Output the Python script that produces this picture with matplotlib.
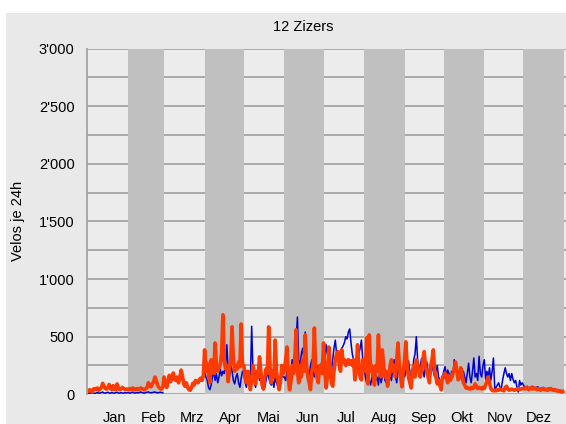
import numpy as np
import matplotlib
matplotlib.use("Agg")
import matplotlib.pyplot as plt
from matplotlib.patches import Rectangle
from matplotlib.ticker import FuncFormatter

plt.rcParams['font.family'] = ['Liberation Sans', 'DejaVu Sans']
plt.rcParams['font.size'] = 10.5

TITLE = "12 Zizers"
Y_LABEL = "Velos je 24h"
MONTHS = ["Jan", "Feb", "Mrz", "Apr", "Mai", "Jun", "Jul", "Aug", "Sep", "Okt", "Nov", "Dez"]
MONTH_DAYS = [31, 28, 31, 30, 31, 30, 31, 31, 30, 31, 30, 31]

# daily counts (thin blue line)
blue_jan = [10, 8, 12, 10, 15, 10, 8, 12, 15, 10, 12, 15, 20, 12, 10, 15, 18, 12, 10, 15, 12, 10, 15, 18, 12, 10, 15, 12, 10, 15, 12]
blue_feb = [15, 12, 10, 15, 18, 12, 10, 15, 12, 15, 20, 15, 12, 10, 15, 18, 20, 15, 12, 15, 18, 20, 15, 12, 15, 18, 15, 12]
blue_mrz = [np.nan] * 31
blue_apr = [195, 150, 120, 60, 40, 80, 150, 200, 120, 180, 100, 150, 220, 160, 200, 180, 250, 430, 200, 150, 260, 200, 120, 90, 150, 180, 100, 60, 140, 200]
blue_mai = [180, 100, 60, 150, 200, 120, 590, 200, 100, 60, 150, 250, 120, 200, 150, 80, 60, 120, 200, 150, 100, 80, 120, 60, 150, 100, 70, 40, 120, 180, 150]
blue_jun = [150, 120, 200, 250, 150, 200, 300, 250, 350, 450, 670, 300, 250, 350, 400, 300, 540, 250, 200, 150, 250, 300, 200, 150, 200, 250, 180, 200, 250, 300]
blue_jul = [200, 300, 430, 350, 250, 160, 200, 300, 400, 470, 350, 300, 320, 380, 400, 420, 450, 500, 480, 540, 567, 450, 350, 300, 270, 250, 300, 350, 400, 470, 300]
blue_aug = [250, 150, 100, 200, 120, 80, 150, 200, 100, 120, 150, 80, 200, 100, 150, 250, 120, 100, 80, 200, 150, 120, 250, 300, 150, 100, 200, 250, 150, 100, 200]
blue_sep = [150, 200, 250, 290, 200, 80, 150, 300, 350, 500, 300, 200, 250, 310, 200, 150, 250, 280, 200, 140, 180, 250, 200, 150, 200, 250, 150, 120, 100, 150]
blue_okt = [200, 240, 150, 210, 180, 120, 200, 150, 300, 200, 240, 150, 180, 150, 120, 200, 150, 100, 180, 270, 150, 100, 200, 315, 150, 180, 120, 330, 180, 150, 250]
blue_nov = [300, 130, 200, 150, 230, 120, 200, 315, 50, 60, 80, 100, 60, 50, 120, 180, 230, 180, 150, 180, 120, 180, 130, 100, 120, 60, 20, 120, 80, 100]
blue_dez = [80, 60, 50, 70, 45, 60, 55, 70, 50, 45, 60, 65, 50, 40, 55, 60, 45, 50, 40, 55, 50, 35, 45, 40, 50, 35, 30, 40, 25, 20, 15]

# thick orange line
orange_jan = [30, 25, 40, 35, 20, 45, 50, 40, 55, 35, 45, 60, 95, 70, 50, 45, 60, 85, 50, 40, 75, 45, 40, 90, 55, 40, 45, 60, 50, 40, 45]
orange_feb = [45, 40, 50, 45, 55, 40, 45, 50, 40, 45, 55, 50, 45, 40, 50, 60, 100, 70, 65, 90, 110, 150, 120, 80, 60, 50, 45, 60]
orange_mrz = [150, 90, 60, 120, 165, 110, 140, 185, 130, 120, 150, 100, 140, 210, 160, 90, 70, 100, 60, 40, 35, 60, 95, 80, 120, 110, 100, 130, 140, 120, 160]
orange_apr = [385, 200, 270, 180, 100, 300, 250, 180, 445, 260, 200, 230, 260, 350, 690, 300, 220, 250, 110, 230, 280, 585, 300, 200, 250, 220, 280, 240, 610, 250]
orange_mai = [250, 150, 100, 200, 130, 40, 120, 250, 180, 90, 200, 150, 325, 200, 80, 45, 150, 220, 180, 585, 250, 100, 200, 150, 470, 200, 120, 40, 100, 250, 180]
orange_jun = [200, 300, 410, 150, 40, 100, 250, 180, 300, 560, 200, 100, 250, 150, 300, 200, 515, 250, 150, 100, 40, 200, 250, 575, 200, 150, 100, 250, 200, 180]
orange_jul = [445, 200, 55, 150, 410, 250, 100, 70, 200, 300, 350, 370, 250, 200, 385, 280, 300, 250, 280, 300, 260, 290, 250, 300, 125, 200, 430, 250, 150, 125, 300]
orange_aug = [300, 200, 490, 90, 515, 200, 250, 150, 80, 250, 200, 515, 200, 150, 385, 250, 150, 200, 70, 150, 250, 300, 200, 250, 150, 300, 445, 250, 150, 65, 200]
orange_sep = [300, 455, 250, 150, 100, 55, 200, 250, 150, 300, 250, 200, 150, 210, 300, 370, 250, 200, 150, 100, 250, 300, 385, 200, 150, 90, 120, 80, 38, 150]
orange_okt = [150, 185, 140, 100, 160, 120, 150, 180, 220, 280, 200, 125, 150, 230, 180, 100, 80, 55, 60, 50, 45, 60, 50, 55, 90, 70, 50, 60, 55, 45, 60]
orange_nov = [50, 80, 120, 150, 100, 50, 35, 30, 35, 30, 40, 35, 45, 40, 35, 30, 60, 70, 45, 35, 40, 45, 40, 35, 40, 45, 50, 40, 45, 50]
orange_dez = [50, 45, 60, 55, 40, 50, 60, 45, 50, 55, 40, 45, 50, 35, 45, 50, 40, 45, 35, 40, 45, 50, 40, 35, 40, 30, 35, 25, 30, 20, 25]

blue = np.array(blue_jan + blue_feb + blue_mrz + blue_apr + blue_mai + blue_jun +
                blue_jul + blue_aug + blue_sep + blue_okt + blue_nov + blue_dez, dtype=float)
orange = np.array(orange_jan + orange_feb + orange_mrz + orange_apr + orange_mai + orange_jun +
                  orange_jul + orange_aug + orange_sep + orange_okt + orange_nov + orange_dez, dtype=float)
days = np.arange(len(blue))

W, H = 566, 424
fig = plt.figure(figsize=(W / 100, H / 100), dpi=100, facecolor='white')
# grey panel behind everything (thin white margin top/left)
fig.patches.append(Rectangle((6 / W, 0), 1, 1 - 13 / H, transform=fig.transFigure,
                             facecolor='#e9e9e9', edgecolor='none', zorder=-10))

left, right, top, bottom = 87, 566, 48.5, 394.3
ax = fig.add_axes([left / W, 1 - bottom / H, (right - left) / W, (bottom - top) / H])
ax.set_facecolor('#ececec')

bounds = np.concatenate([[0], np.cumsum(MONTH_DAYS)])
for i in range(1, 12, 2):
    ax.axvspan(bounds[i], bounds[i + 1], color='#c0c0c0', lw=0, zorder=1)

for v in np.arange(0, 3001, 250):
    ax.axhline(v, color='#a3a3a3', lw=1.3, zorder=0.5)

ax.plot(days, blue, color='#0000cc', lw=1.1, zorder=2)
ax.plot(days, orange, color='#ff3a00', lw=2.6, zorder=3)

ax.set_xlim(0, 365 * (right - left) / (564 - left))
ax.set_ylim(0, 3000)

ax.set_yticks(np.arange(0, 3001, 500))
ax.yaxis.set_major_formatter(FuncFormatter(lambda v, p: f"{int(v):,}".replace(",", "'")))
px_per_day = (564 - left) / 365
ax.set_xticks([(115 + 38.5 * i - left) / px_per_day for i in range(12)])
ax.set_xticklabels(MONTHS)
ax.tick_params(axis='y', length=0, pad=9)
ax.tick_params(axis='x', length=0, pad=12)

for s in ['top', 'right', 'bottom']:
    ax.spines[s].set_visible(False)
ax.spines['left'].set_color('#a3a3a3')
ax.spines['left'].set_linewidth(1.3)
ax.spines['left'].set_zorder(4)

fig.text(303 / W, 1 - 27 / H, TITLE, ha='center', va='center')
fig.text(18 / W, 1 - 221 / H, Y_LABEL, ha='center', va='center', rotation=90)

fig.savefig("out.png", dpi=100, facecolor=fig.get_facecolor())
